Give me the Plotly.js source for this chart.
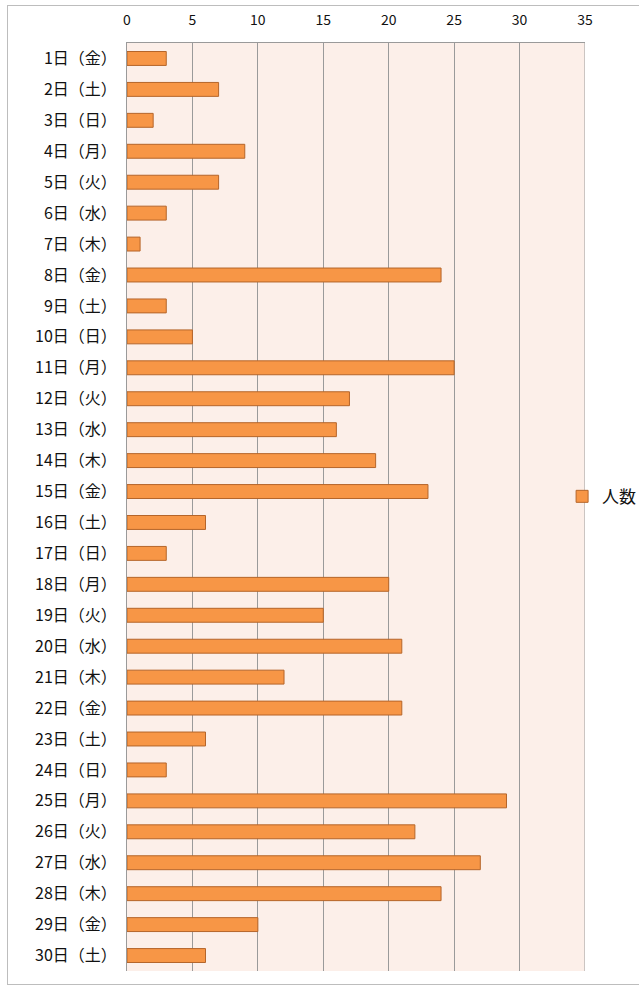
<!DOCTYPE html>
<html><head><meta charset="utf-8">
<script src="https://cdn.plot.ly/plotly-3.0.1.min.js"></script>
<style>
html,body{margin:0;padding:0;background:#fff;}
#frame{position:absolute;left:7px;top:5px;width:700px;height:980px;border:1px solid #bdbdbd;box-sizing:border-box;pointer-events:none;z-index:5;}
#chart{width:639px;height:987px;}
</style></head>
<body>
<div id="frame"></div>
<div id="chart"></div>
<script>
const days = ["1日（金）","2日（土）","3日（日）","4日（月）","5日（火）","6日（水）","7日（木）","8日（金）","9日（土）","10日（日）",
"11日（月）","12日（火）","13日（水）","14日（木）","15日（金）","16日（土）","17日（日）","18日（月）","19日（火）","20日（水）",
"21日（木）","22日（金）","23日（土）","24日（日）","25日（月）","26日（火）","27日（水）","28日（木）","29日（金）","30日（土）"];
const counts = [3,7,2,9,7,3,1,24,3,5,25,17,16,19,23,6,3,20,15,21,12,21,6,3,29,22,27,24,10,6];
const seriesName = "人数";
const xTicks = [0,5,10,15,20,25,30,35];

const font = "'Noto Sans CJK JP', 'Noto Sans', sans-serif";
Plotly.newPlot("chart", [{
  type: "bar", orientation: "h",
  x: counts, y: days, name: seriesName,
  marker: {color: "#f79646", line: {color: "#b5652a", width: 1}},
  showlegend: true
}], {
  width: 639, height: 987,
  margin: {l: 127, r: 54, t: 43, b: 16, autoexpand: false},
  paper_bgcolor: "#ffffff",
  plot_bgcolor: "#fcefe9",
  bargap: 0.55,
  font: {family: font, size: 16, color: "#111"},
  xaxis: {
    side: "top", range: [0, 35], tickvals: xTicks, ticktext: xTicks.map(String),
    showgrid: true, gridcolor: "#9a9a9a", gridwidth: 1,
    zeroline: false, showline: true, linecolor: "#9a9a9a", mirror: false,
    ticks: "", ticklabelstandoff: 11, tickfont: {size: 14, family: font, color: "#111"},
    fixedrange: true
  },
  yaxis: {
    type: "category", autorange: "reversed",
    showgrid: false, zeroline: false, showline: true, linecolor: "#9a9a9a",
    ticks: "", ticklabelstandoff: 6, tickfont: {size: 16, family: font, color: "#111"}
  },
  legend: {x: 0.95, xanchor: "left", y: 0.511, yanchor: "middle", bgcolor: "rgba(0,0,0,0)",
    font: {size: 17, family: font, color: "#111"}, itemwidth: 30},
  shapes: [{type: "line", xref: "x", yref: "paper", x0: 35, x1: 35, y0: 0, y1: 1, line: {color: "#9a9a9a", width: 1}}]
}, {displayModeBar: false, staticPlot: true});
</script>
</body></html>
